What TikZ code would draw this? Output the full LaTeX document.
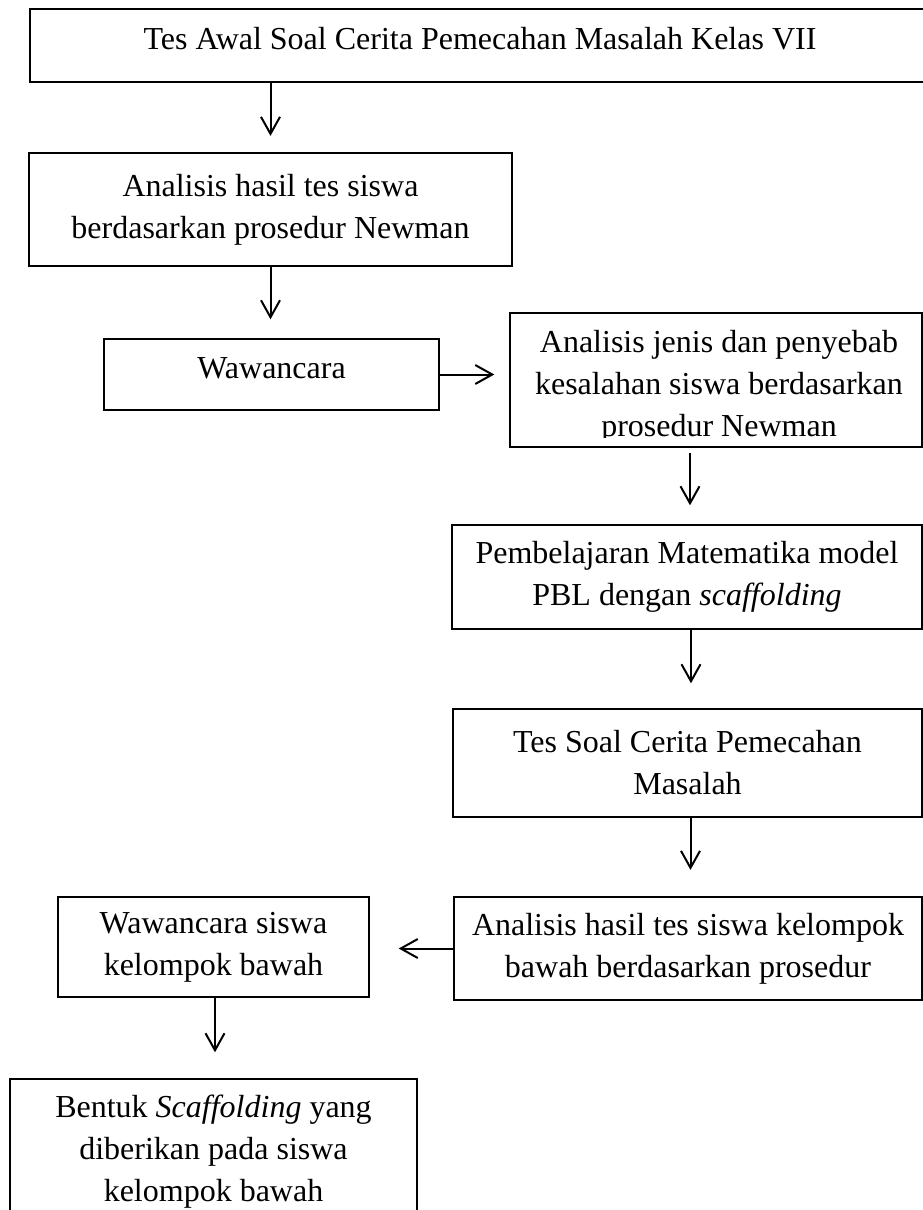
\documentclass[tikz,border=0pt]{standalone}
\usepackage{fontspec}
\setmainfont{Liberation Serif}
\usetikzlibrary{arrows.meta, positioning}

\begin{document}
\begin{tikzpicture}[x=1pt, y=-1pt,
    font=\fontsize{32}{42}\selectfont,
    box/.style={draw, line width=1.4pt, align=center, inner sep=0pt},
    arr/.style={-{Straight Barb[length=17pt, width=19pt]}, line width=2pt}]
    \useasboundingbox (0,0) rectangle (923,1210);
    \clip (0,0) rectangle (923,1210);
    % boxes
    \node[box, minimum width=920pt, text height=40pt, text depth=33pt] (awal) at (490,45.5) {};
    \node (awaltxt) at (480,45.5) [text height=40pt, text depth=33pt, inner sep=0pt] {Tes Awal Soal Cerita Pemecahan Masalah Kelas VII};
    \node[box, line width=2.2pt, minimum width=483pt, minimum height=113pt] (hasil) at (270.5,209.5) {Analisis hasil tes siswa\\berdasarkan prosedur Newman};
    \node[box, minimum width=335pt, text height=39pt, text depth=32pt] (wwc) at (271.5,374.5) {Wawancara};
    \node[box, minimum width=412pt, minimum height=134pt] (jenis) at (716,380) {};
    \begin{scope}
        \clip (510,313) rectangle (922,437);
        \node[align=center] (jenistxt) at (719,387) {Analisis jenis dan penyebab\\kesalahan siswa berdasarkan\\prosedur Newman};
    \end{scope}
    \node[box, minimum width=470pt, minimum height=104pt] (pbl) at (687,577) {Pembelajaran Matematika model\\PBL dengan \textit{scaffolding}};
    \node[box, minimum width=469pt, minimum height=108pt] (tes) at (687.5,763) {Tes Soal Cerita Pemecahan\\Masalah};
    \node[box, line width=2.2pt, minimum width=468pt, minimum height=103pt] (kel) at (688,948.5) {Analisis hasil tes siswa kelompok\\bawah berdasarkan prosedur};
    \node[box, minimum width=311pt, minimum height=100pt] (wsb) at (213.5,947) {Wawancara siswa\\kelompok bawah};
    \node[box, minimum width=407pt, minimum height=146pt] (bentuk) at (213.5,1152) {Bentuk \textit{Scaffolding} yang\\diberikan pada siswa\\kelompok bawah};
    % arrows
    \draw[arr, shorten >=16pt] (awal.south -| hasil.north) -- (hasil.north);
    \draw[arr, shorten >=19pt] (hasil.south) -- (hasil.south |- wwc.north);
    \draw[arr, shorten >=15pt] (wwc.east) -- (wwc.east -| jenis.west);
    \draw[arr, shorten <=5pt, shorten >=19pt] ([xshift=3pt]jenis.south -| pbl.north) -- ([xshift=3pt]pbl.north);
    \draw[arr, shorten >=25pt] ([xshift=4pt]pbl.south) -- ([xshift=4pt]pbl.south |- tes.north);
    \draw[arr, shorten >=26pt] ([xshift=3pt]tes.south) -- ([xshift=3pt]tes.south |- kel.north);
    \draw[arr, shorten >=29pt] (kel.west) -- (kel.west -| wsb.east);
    \draw[arr, shorten >=26pt] ([xshift=1.5pt]wsb.south) -- ([xshift=1.5pt]bentuk.north);
\end{tikzpicture}
\end{document}
